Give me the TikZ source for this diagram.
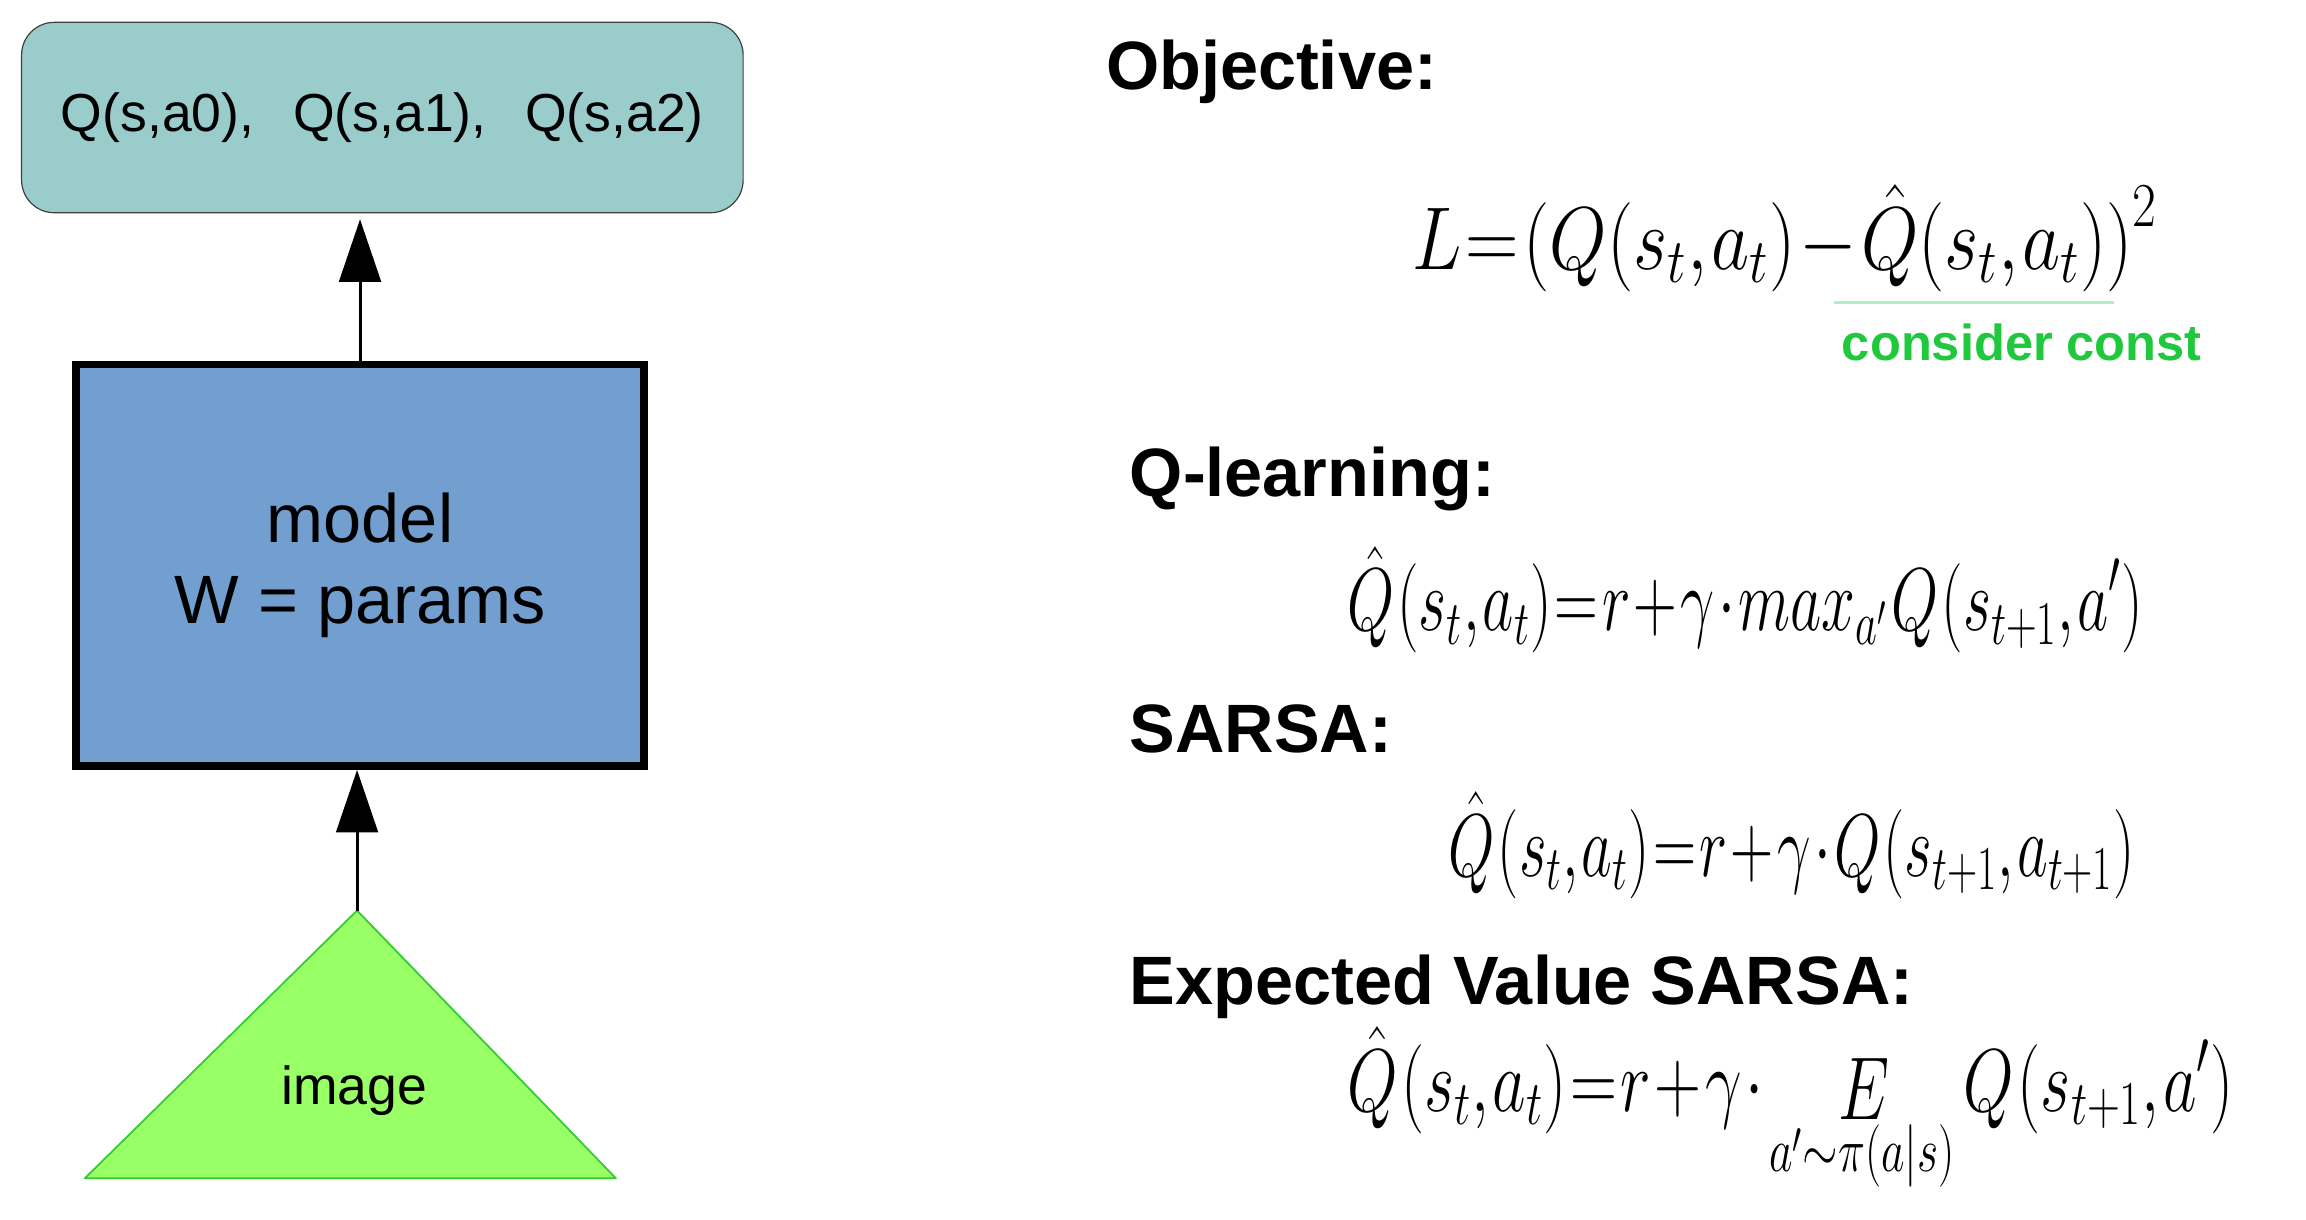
\documentclass[tikz,border=0pt]{standalone}
\usepackage{fix-cm}
\usepackage[no-math]{fontspec}
\setmainfont{Liberation Sans}
\usetikzlibrary{arrows.meta,positioning}
\definecolor{qteal}{HTML}{9ACCCC}
\definecolor{modelblue}{HTML}{729FCF}
\definecolor{imgfill}{HTML}{99FF66}
\definecolor{imgedge}{HTML}{33CC33}
\definecolor{constgreen}{HTML}{1FC83C}
\definecolor{constline}{HTML}{B3EDC4}
\newcommand{\formula}[2][0.66]{\scalebox{#1}[1]{\thickmuskip=1mu\medmuskip=1mu\thinmuskip=1mu$\displaystyle #2$}}
\tikzset{
  qbox/.style={draw=black!75, fill=qteal, rounded corners=11pt, minimum width=242.5pt, minimum height=64pt, font=\fontsize{18}{22}\selectfont},
  modelbox/.style={draw=black, line width=2.5pt, fill=modelblue, minimum width=191pt, minimum height=135pt, align=center, font=\fontsize{23}{27}\selectfont},
  imgtri/.style={draw=imgedge, fill=imgfill, line width=0.6pt, line join=round},
  flow/.style={draw=black, line width=1pt, -{Triangle[length=21pt, width=14pt]}},
  heading/.style={anchor=west, inner sep=0pt, font=\bfseries\fontsize{23}{27}\selectfont},
  eqn/.style={anchor=west, inner sep=0pt, font=\fontsize{30}{34}\selectfont},
}
\begin{document}
\begin{tikzpicture}[x=0.5pt, y=-0.5pt]
	\useasboundingbox (0,0) rectangle (1550,820);
	%network
	\node[qbox] (qvals) at (257,79) {Q(s,a0),\hspace{13pt}Q(s,a1),\hspace{13pt}Q(s,a2)};
	\node[modelbox] (model) at (242,380) {model\\W = params};
	\draw[imgtri] (240,612) coordinate (apex) -- (414,792) -- (57,792) -- cycle;
	\node[font=\fontsize{18}{22}\selectfont] (imgtext) at (238,733) {image};
	\draw[flow, shorten >=2pt] (model.north) -- (model.north |- qvals.south);
	\draw[flow] (apex) -- (apex |- model.south);
	%objective
	\node[heading] (objhead) at (743,48) {Objective:};
	\node[eqn] (objeq) at (949,160) {\formula[0.83]{L=\Bigl(Q\Bigl(s_t,a_t\Bigr)-\hat{Q}\Bigl(s_t,a_t\Bigr)\Bigr)^2}};
	\coordinate (constl) at (1233,203);
	\coordinate (constr) at (1421,203);
	\draw[constline, line width=1pt] (constl) -- (constr);
	\node[font=\bfseries\fontsize{17}{20}\selectfont, text=constgreen] (const) at (1359,230) {consider const};
	%q-learning
	\node[heading] (qlhead) at (759,322) {Q-learning:};
	\node[eqn] (qleq) at (905,403) {\formula[0.68]{\hat{Q}\left(s_t,a_t\right)=r+\gamma\cdot max_{a'}\,Q\left(s_{t+1},a'\right)}};
	%sarsa
	\node[heading] (sarsahead) at (759,490) {SARSA:};
	\node[eqn] (sarsaeq) at (973,568) {\formula[0.67]{\hat{Q}\left(s_t,a_t\right)=r+\gamma\cdot Q\left(s_{t+1},a_{t+1}\right)}};
	%expected value sarsa
	\node[heading] (evhead) at (759,663) {Expected Value SARSA:};
	\node[eqn] (eveq) at (905,745) {\formula[0.73]{\hat{Q}\left(s_t,a_t\right)=r+\gamma\cdot\;\mathop{E}\limits_{a'\sim\pi\left(a|s\right)}\;Q\left(s_{t+1},a'\right)}};
\end{tikzpicture}
\end{document}
